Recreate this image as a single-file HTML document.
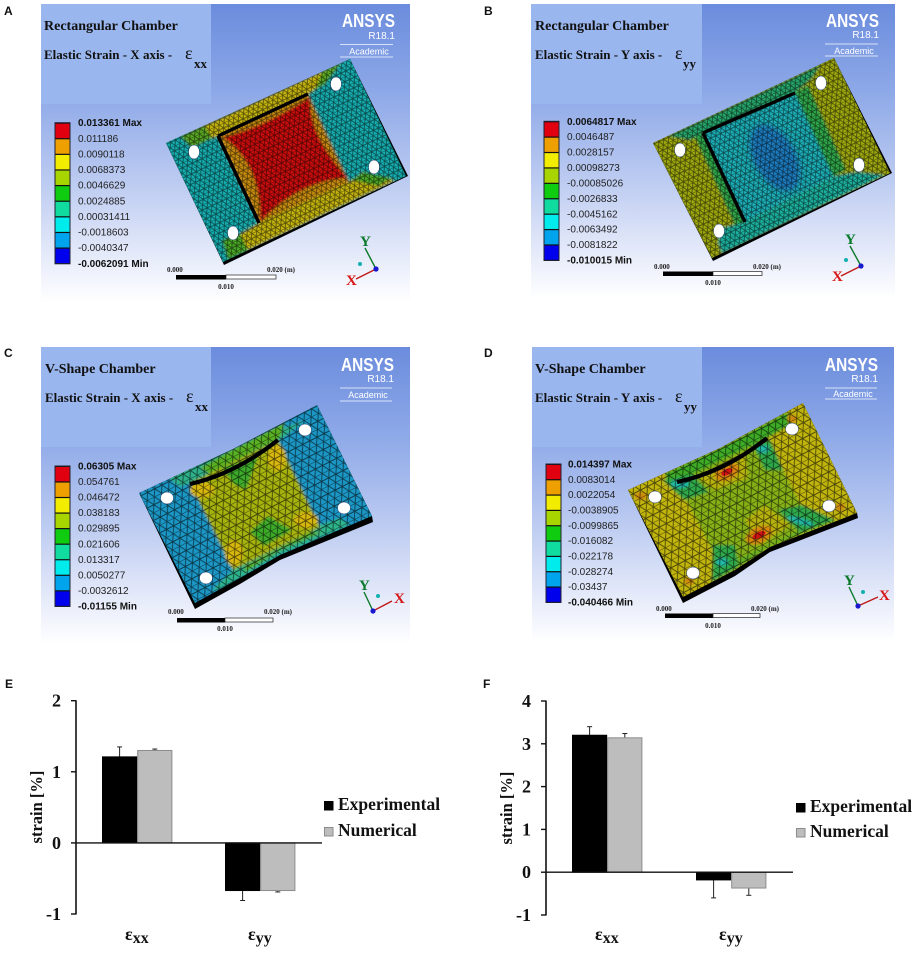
<!DOCTYPE html>
<html lang="en">
<head>
<meta charset="utf-8">
<title>Chamber strain figure</title>
<style>
html,body{margin:0;padding:0;background:#fff;width:916px;height:954px;overflow:hidden}
svg{display:block}
text{font-family:"Liberation Serif",serif}
.sans{font-family:"Liberation Sans",sans-serif}
.ttl{font-size:14px;font-weight:bold;fill:#111}
.ttl2{font-size:13px;font-weight:bold;fill:#111}
.eps{font-size:18px;font-weight:normal;fill:#111}
.ans{font-family:"Liberation Sans",sans-serif;font-size:18px;font-weight:bold;fill:#fff;text-anchor:end}
.rel{font-family:"Liberation Sans",sans-serif;font-size:10px;fill:#fff;text-anchor:end}
.aca{font-family:"Liberation Sans",sans-serif;font-size:9px;fill:#fff;text-anchor:middle}
.tag{font-family:"Liberation Sans",sans-serif;font-size:12px;font-weight:bold;fill:#111}
.hole{fill:#fff;stroke:#1a3a70;stroke-width:.5}
</style>
</head>
<body>
<svg id="fig" xmlns="http://www.w3.org/2000/svg" width="916" height="954" viewBox="0 0 916 954">
<defs>
<linearGradient id="bg" x1="0" y1="0" x2="0" y2="1">
<stop offset="0" stop-color="#6b8cdd"/><stop offset=".3" stop-color="#8ea9e8"/><stop offset=".6" stop-color="#bccbf1"/><stop offset=".85" stop-color="#e6ebfa"/><stop offset="1" stop-color="#fff"/>
</linearGradient>
<pattern id="fine" width="5.4" height="9.353" patternUnits="userSpaceOnUse" patternTransform="rotate(-25)">
<path d="M0,0H5.4M0,4.676H5.4M0,0L5.4,9.353M5.4,0L0,9.353" stroke="#000" stroke-width=".9" stroke-opacity=".55" fill="none"/>
</pattern>
<pattern id="coarse" width="8" height="13.856" patternUnits="userSpaceOnUse" patternTransform="rotate(-27)">
<path d="M0,0H8M0,6.928H8M0,0L8,13.856M8,0L0,13.856" stroke="#000" stroke-width=".9" stroke-opacity=".6" fill="none"/>
</pattern>
<filter id="soft" x="-10%" y="-10%" width="120%" height="120%"><feGaussianBlur stdDeviation="1.2"/></filter>
<filter id="soft2" x="-30%" y="-30%" width="160%" height="160%"><feGaussianBlur stdDeviation="3"/></filter>
<clipPath id="clipA"><polygon points="166,143 350,59 406,176 223,262"/></clipPath>
<clipPath id="clipB"><polygon points="653,143 834,58 890,173 712,258"/></clipPath>
<clipPath id="clipC"><polygon points="139,493 233,449 317,405 372,516 280,555 240,578 195,603"/></clipPath>
<clipPath id="clipD"><polygon points="628,490 720,448 803,403 857,513 770,547 735,570 683,597"/></clipPath>
</defs>
<rect width="916" height="954" fill="#fff"/>

<!-- PANEL A -->
<g>
<rect x="41" y="4" width="369" height="298" fill="url(#bg)"/>
<rect x="41" y="4" width="170" height="100" fill="#9ab6ee"/>
<text class="ttl" x="44" y="30">Rectangular Chamber</text>
<text class="ttl2" x="44" y="59">Elastic Strain - X axis -<tspan class="eps" x="185">ε</tspan></text>
<text class="ttl2" x="194" y="68">xx</text>
<text class="ans" x="395" y="27" textLength="53" lengthAdjust="spacingAndGlyphs">ANSYS</text>
<text class="rel" x="395" y="39">R18.1</text>
<path d="M340,44.5H393M340,57H393" stroke="#fff" stroke-opacity=".7"/>
<text class="aca" x="369" y="54.5">Academic</text>
<g>
<polygon points="166,143 350,59 408,176 224,265" fill="#000"/>
<g clip-path="url(#clipA)">
<g filter="url(#soft)">
<polygon points="150,120 400,30 420,190 220,280" fill="#18aeb0"/>
<polygon points="185,134 338,64 312,92 218,136 192,146" fill="#c4b408"/>
<polygon points="259,223 349,182 363,172 385,178 395,181 232,258 226,240 238,235" fill="#c4b408"/>
<polygon points="180,136 205,126 212,138 192,148" fill="#58a820"/>
<polygon points="322,72 342,62 325,84 315,90" fill="#58a820"/>
<polygon points="352,180 364,172 392,178 378,186" fill="#48a828"/>
<polygon points="222,240 240,234 248,250 228,260" fill="#48a828"/>
<polygon points="218,136 308,94 349,182 259,223" fill="#c98d0a"/>
<path d="M223,137 Q262,128 310,97 Q308,135 348,178 Q300,180 260,222 Q262,165 223,137Z" fill="#cc1010"/>
</g>
<polygon points="166,143 350,59 406,176 223,262" fill="url(#fine)"/>
</g>
<path d="M218,136L308,94M218,136L259,223" stroke="#000" stroke-width="3.4" fill="none"/>
<ellipse class="hole" cx="194" cy="152" rx="5.5" ry="7"/>
<ellipse class="hole" cx="336" cy="84" rx="5.5" ry="7"/>
<ellipse class="hole" cx="374" cy="167" rx="5.5" ry="7"/>
<ellipse class="hole" cx="233" cy="233" rx="5.5" ry="7"/>
</g>
</g>

<!-- PANEL B -->
<g>
<rect x="531" y="4" width="364" height="294" fill="url(#bg)"/>
<rect x="531" y="4" width="171" height="100" fill="#9ab6ee"/>
<text class="ttl" x="535" y="30">Rectangular Chamber</text>
<text class="ttl2" x="535" y="59">Elastic Strain - Y axis -<tspan class="eps" x="675">ε</tspan></text>
<text class="ttl2" x="683" y="68">yy</text>
<text class="ans" x="879" y="27" textLength="53" lengthAdjust="spacingAndGlyphs">ANSYS</text>
<text class="rel" x="879" y="38">R18.1</text>
<path d="M825,44H878M825,56H878" stroke="#fff" stroke-opacity=".7"/>
<text class="aca" x="854" y="54">Academic</text>
<g>
<polygon points="653,143 834,58 892,173 713,261" fill="#000"/>
<g clip-path="url(#clipB)">
<g filter="url(#soft)">
<polygon points="640,40 900,40 900,270 640,270" fill="#a0aa10"/>
<polygon points="668,136 820,65 812,78 795,93 703,133 690,140" fill="#26a56a"/>
<polygon points="745,222 834,176 857,172 885,175 722,254 718,242 722,228" fill="#1fb2a0"/>
<polygon points="703,133 795,93 834,176 745,222" fill="#1cb0b8"/>
<polygon points="795,93 808,85 846,170 833,176" fill="#2ea84a"/>
<polygon points="703,133 695,137 735,225 745,222" fill="#2ea84a"/>
</g>
<ellipse cx="775" cy="158" rx="36" ry="21" transform="rotate(61 775 158)" fill="#1a7cc0" filter="url(#soft2)"/>
<polygon points="653,143 834,58 890,173 712,258" fill="url(#fine)"/>
</g>
<path d="M703,133L795,93M703,133L745,222" stroke="#000" stroke-width="3.4" fill="none"/>
<ellipse class="hole" cx="680" cy="150" rx="5.5" ry="7"/>
<ellipse class="hole" cx="821" cy="83" rx="5.5" ry="7"/>
<ellipse class="hole" cx="859" cy="165" rx="5.5" ry="7"/>
<ellipse class="hole" cx="719" cy="231" rx="5.5" ry="7"/>
</g>
</g>

<!-- PANEL C -->
<g>
<rect x="41" y="347" width="369" height="297" fill="url(#bg)"/>
<rect x="41" y="347" width="170" height="100" fill="#9ab6ee"/>
<text class="ttl" x="45" y="373">V-Shape Chamber</text>
<text class="ttl2" x="45" y="402">Elastic Strain - X axis -<tspan class="eps" x="186">ε</tspan></text>
<text class="ttl2" x="195" y="411">xx</text>
<text class="ans" x="394" y="371" textLength="53" lengthAdjust="spacingAndGlyphs">ANSYS</text>
<text class="rel" x="394" y="382">R18.1</text>
<path d="M340,388H392M340,401H392" stroke="#fff" stroke-opacity=".7"/>
<text class="aca" x="368" y="398">Academic</text>
<g>
<polygon points="139,493 233,449 317,405 372,516 373,522 280,560 240,584 195,609" fill="#000"/>
<g clip-path="url(#clipC)">
<g filter="url(#soft)">
<polygon points="120,400 390,400 390,620 120,620" fill="#1f96c4"/>
<polygon points="167,477 233,448 305,420 283,438 190,483 180,487" fill="#2fb08a"/>
<polygon points="200,468 233,449 285,422 280,438 210,474" fill="#58b020"/>
<polygon points="233,570 320,525 340,518 350,525 280,555 240,578 218,590 212,590" fill="#2fb48a"/>
<polygon points="245,566 310,532 322,532 280,550 245,572" fill="#58b020"/>
<polygon points="190,483 278,440 320,527 233,570" fill="#a6b210"/>
<ellipse cx="202" cy="490" rx="12" ry="8" fill="#d8b80c"/>
<ellipse cx="277" cy="458" rx="9" ry="13" fill="#d8b80c"/>
<ellipse cx="306" cy="520" rx="12" ry="8" fill="#d8b80c"/>
<ellipse cx="234" cy="553" rx="9" ry="13" fill="#d8b80c"/>
<polygon points="222,468 258,456 246,490 234,484" fill="#3cab2a"/>
<polygon points="250,532 268,516 292,530 264,546" fill="#3cab2a"/>
</g>
<polygon points="139,493 233,449 317,405 372,516 280,555 240,578 195,603" fill="url(#coarse)"/>
</g>
<path d="M190,484Q235,474 278,440" stroke="#000" stroke-width="4.2" fill="none"/>
<ellipse class="hole" cx="167" cy="498" rx="6.5" ry="6"/>
<ellipse class="hole" cx="305" cy="430" rx="6.5" ry="6"/>
<ellipse class="hole" cx="344" cy="508" rx="6.5" ry="6"/>
<ellipse class="hole" cx="206" cy="578" rx="6.5" ry="6"/>
</g>
</g>

<!-- PANEL D -->
<g>
<rect x="532" y="347" width="362" height="295" fill="url(#bg)"/>
<rect x="532" y="347" width="170" height="100" fill="#9ab6ee"/>
<text class="ttl" x="535" y="373">V-Shape Chamber</text>
<text class="ttl2" x="535" y="402">Elastic Strain - Y axis -<tspan class="eps" x="675">ε</tspan></text>
<text class="ttl2" x="684" y="411">yy</text>
<text class="ans" x="878" y="371" textLength="53" lengthAdjust="spacingAndGlyphs">ANSYS</text>
<text class="rel" x="878" y="382">R18.1</text>
<path d="M825,388H877M825,399H877" stroke="#fff" stroke-opacity=".7"/>
<text class="aca" x="853" y="397">Academic</text>
<g>
<polygon points="628,490 720,448 803,403 857,513 858,518 770,552 735,576 683,603" fill="#000"/>
<g clip-path="url(#clipD)">
<g filter="url(#soft)">
<polygon points="610,390 880,390 880,610 610,610" fill="#c0b40c"/>
<polygon points="665,473 720,448 787,412 790,425 767,438 677,482 668,484" fill="#3cab28"/>
<polygon points="721,567 811,525 838,520 845,517 770,547 735,570 710,583" fill="#60b020"/>
<polygon points="677,482 767,438 811,525 721,567" fill="#86b012"/>
<polygon points="698,478 745,452 748,478 715,490" fill="#b8b20c"/>
<polygon points="745,520 765,505 790,525 760,545" fill="#b8b20c"/>
<polygon points="663,480 692,474 708,492 684,500" fill="#2ea848"/>
<polygon points="753,445 770,440 783,470 765,470" fill="#2ea848"/>
<polygon points="778,510 802,505 835,520 800,532" fill="#2ea848"/>
<polygon points="713,545 735,545 738,566 712,582" fill="#2ea848"/>
<ellipse cx="680" cy="484" rx="9" ry="4" fill="#24b8a8"/>
<ellipse cx="763" cy="449" rx="6" ry="4" fill="#24b8a8"/>
<ellipse cx="800" cy="521" rx="14" ry="3" transform="rotate(15 800 521)" fill="#24b8a8"/>
<ellipse cx="722" cy="562" rx="6" ry="4" fill="#24b8a8"/>
<ellipse cx="727" cy="472" rx="13" ry="8" transform="rotate(-25 727 472)" fill="#d8860c"/>
<ellipse cx="759" cy="535" rx="14" ry="8" transform="rotate(-25 759 535)" fill="#d8860c"/>
<ellipse cx="641" cy="496" rx="6" ry="4" fill="#cf8a10"/>
<ellipse cx="792" cy="419" rx="5" ry="4" fill="#cf8a10"/>
<ellipse cx="840" cy="507" rx="5" ry="4" fill="#cf8a10"/>
<ellipse cx="689" cy="581" rx="5" ry="4" fill="#cf8a10"/>
</g>
<ellipse cx="727" cy="472" rx="6" ry="3" transform="rotate(-25 727 472)" fill="#d01414"/>
<ellipse cx="759" cy="535" rx="7" ry="3" transform="rotate(-25 759 535)" fill="#d01414"/>
<polygon points="628,490 720,448 803,403 857,513 770,547 735,570 683,597" fill="url(#coarse)"/>
</g>
<path d="M677,482Q725,472 767,438" stroke="#000" stroke-width="4.2" fill="none"/>
<ellipse class="hole" cx="655" cy="497" rx="6.5" ry="6"/>
<ellipse class="hole" cx="792" cy="429" rx="6.5" ry="6"/>
<ellipse class="hole" cx="829" cy="506" rx="6.5" ry="6"/>
<ellipse class="hole" cx="693" cy="573" rx="6.5" ry="6"/>
</g>
</g>

<text class="tag" x="4" y="15">A</text>
<text class="tag" x="484" y="15">B</text>
<text class="tag" x="4" y="357">C</text>
<text class="tag" x="484" y="357">D</text>
<text class="tag" x="5" y="688">E</text>
<text class="tag" x="483" y="688">F</text>
</svg>

<script>
// ---- Chart data ----
const categories = ['xx', 'yy'];
const seriesNames = ['Experimental', 'Numerical'];
const ticksE = [2, 1, 0, -1];
const experimentalE = [1.21, -0.67];
const experimentalErrE = [0.14, 0.14];
const numericalE = [1.30, -0.67];
const numericalErrE = [0.02, 0.02];
const ticksF = [4, 3, 2, 1, 0, -1];
const experimentalF = [3.20, -0.18];
const experimentalErrF = [0.20, 0.42];
const numericalF = [3.14, -0.37];
const numericalErrF = [0.10, 0.17];
// ---- Contour legend values ----
const legendA = ['0.013361 Max','0.011186','0.0090118','0.0068373','0.0046629','0.0024885','0.00031411','-0.0018603','-0.0040347','-0.0062091 Min'];
const legendB = ['0.0064817 Max','0.0046487','0.0028157','0.00098273','-0.00085026','-0.0026833','-0.0045162','-0.0063492','-0.0081822','-0.010015 Min'];
const legendC = ['0.06305 Max','0.054761','0.046472','0.038183','0.029895','0.021606','0.013317','0.0050277','-0.0032612','-0.01155 Min'];
const legendD = ['0.014397 Max','0.0083014','0.0022054','-0.0038905','-0.0099865','-0.016082','-0.022178','-0.028274','-0.03437','-0.040466 Min'];
const contourColors = ['#e00010','#eea000','#f2ec00','#a8d400','#10cc10','#10dca0','#00ecec','#00a4ec','#0000ec'];

const fig = document.getElementById('fig');
const NS = 'http://www.w3.org/2000/svg';
function svgEl(tag, attrs, parent) {
  const e = document.createElementNS(NS, tag);
  for (const k in attrs) e.setAttribute(k, attrs[k]);
  (parent || fig).appendChild(e);
  return e;
}

function drawLegend(prefix, values, barX, labelX, top, bottom) {
  const g = svgEl('g', {});
  
  
  const step = (bottom - top) / (values.length - 1);
  const frame = svgEl('rect', {x: barX, y: top, width: 15, height: bottom - top + 0.5, fill: '#111', stroke: '#223', 'stroke-width': 1}, g);
  
  
  contourColors.forEach((c, i) => {
    const cell = svgEl('rect', {x: barX + 0.5, y: top + i * step + 1, width: 14, height: step - 1.2, fill: c}, g);
    
    
  });
  values.forEach((v, i) => {
    const edge = i === 0 || i === values.length - 1;
    const t = svgEl('text', {x: labelX, y: top + i * step + 3.5, 'font-size': 10, 'font-weight': edge ? 'bold' : 'normal', fill: edge ? '#111' : '#222', class: 'sans'}, g);
    
    
    t.textContent = v;
  });
}
drawLegend('panel-a', legendA, 55, 78, 122.7, 263.3);
drawLegend('panel-b', legendB, 544, 567, 121.3, 260);
drawLegend('panel-c', legendC, 55, 78, 466, 606);
drawLegend('panel-d', legendD, 546, 568, 464, 602);

function drawScale(prefix, x0, x1, x2, barY, labelY, midY) {
  const g = svgEl('g', {});
  
  
  const black = svgEl('rect', {x: x0, y: barY, width: x1 - x0, height: 4.5, fill: '#000'}, g);
  
  
  const white = svgEl('rect', {x: x1, y: barY, width: x2 - x1, height: 4, fill: '#fff', stroke: '#222', 'stroke-width': 0.7}, g);
  
  
  const a = svgEl('text', {x: x0 - 9, y: labelY, 'font-size': 7, 'font-weight': 'bold', fill: '#222'}, g);
  
  
  a.textContent = '0.000';
  const b = svgEl('text', {x: x2 - 9, y: labelY, 'font-size': 7, 'font-weight': 'bold', fill: '#222'}, g);
  
  
  b.textContent = '0.020 (m)';
  const c = svgEl('text', {x: x1, y: midY, 'font-size': 7, 'font-weight': 'bold', fill: '#222', 'text-anchor': 'middle'}, g);
  
  
  c.textContent = '0.010';
}
drawScale('panel-a', 176, 226, 276, 275, 272, 289);
drawScale('panel-b', 663, 713, 762, 271.5, 269, 285);
drawScale('panel-c', 177, 225, 273, 618, 614, 631);
drawScale('panel-d', 665, 713, 760, 613.5, 611, 628);

function drawTriad(prefix, ox, oy, yx, yy, xx, xy, dx, dy, xlx, xly) {
  const g = svgEl('g', {});
  
  
  const ya = svgEl('line', {x1: ox, y1: oy, x2: yx, y2: yy, stroke: '#0a7a2a', 'stroke-width': 1.4}, g);
  
  
  const xa = svgEl('line', {x1: ox, y1: oy, x2: xx, y2: xy, stroke: '#c01818', 'stroke-width': 1.4}, g);
  
  
  const z = svgEl('circle', {cx: ox, cy: oy, r: 2.6, fill: '#1818d0'}, g);
  
  
  const dot = svgEl('circle', {cx: dx, cy: dy, r: 2, fill: '#12b0b0'}, g);
  
  
  const yt = svgEl('text', {x: yx - 5, y: yy - 2, 'font-size': 15, 'font-weight': 'bold', fill: '#0a7a2a'}, g);
  
  
  yt.textContent = 'Y';
  const xt = svgEl('text', {x: xlx, y: xly, 'font-size': 15, 'font-weight': 'bold', fill: '#d81818'}, g);
  
  
  xt.textContent = 'X';
}
drawTriad('panel-a', 376, 269, 365, 248, 356, 279, 360, 264, 346, 285);
drawTriad('panel-b', 861, 266, 850, 246, 841, 276, 846, 260, 832, 281);
drawTriad('panel-c', 373, 611, 364, 592, 392, 601, 378, 596, 394, 603);
drawTriad('panel-d', 858, 606, 849, 587, 878, 597, 863, 592, 879, 600);

function drawChart(prefix, layout, ticks, exp, expErr, num, numErr) {
  const g = svgEl('g', {});
  
  
  const yMax = ticks[0];
  const yMin = ticks[ticks.length - 1];
  const yScale = v => layout.top + (yMax - v) / (yMax - yMin) * (layout.bottom - layout.top);
  const xBand = i => layout.firstBar + i * layout.groupStep;

  const series = [
    {vals: exp, errs: expErr, fill: '#000', stroke: '#000', name: 'experimental'},
    {vals: num, errs: numErr, fill: '#bdbdbd', stroke: '#8c8c8c', name: 'numerical'}
  ];
  series.forEach((s, si) => {
    s.vals.forEach((v, i) => {
      const x = xBand(i) + si * layout.barWidth;
      const y = Math.min(yScale(v), yScale(0));
      const h = Math.abs(yScale(v) - yScale(0));
      const cx = x + layout.barWidth / 2;
      const end = yScale(v + (v >= 0 ? s.errs[i] : -s.errs[i]));
      const stem = svgEl('line', {x1: cx, y1: yScale(v), x2: cx, y2: end, stroke: '#222', 'stroke-width': 1}, g);
      
      
      const cap = svgEl('line', {x1: cx - 2.5, y1: end, x2: cx + 2.5, y2: end, stroke: '#222', 'stroke-width': 1}, g);
      
      
      const bar = svgEl('rect', {x: x + 0.5, y: y, width: layout.barWidth - 1, height: h, fill: s.fill, stroke: s.stroke, 'stroke-width': 1}, g);
      
      
    });
  });

  const axisY = svgEl('line', {x1: layout.axisX, y1: layout.top - 0.5, x2: layout.axisX, y2: layout.bottom + 0.5, stroke: '#111', 'stroke-width': 1.6}, g);
  
  
  const axisX = svgEl('line', {x1: layout.axisX, y1: yScale(0), x2: layout.axisEnd, y2: yScale(0), stroke: '#111', 'stroke-width': 1.4}, g);
  
  

  ticks.forEach(t => {
    const tk = svgEl('line', {x1: layout.axisX - 5, y1: yScale(t), x2: layout.axisX, y2: yScale(t), stroke: '#111', 'stroke-width': 1.4}, g);
    
    
    const lb = svgEl('text', {x: layout.axisX - 15, y: yScale(t) + 6, 'font-size': 18, 'font-weight': 'bold', 'text-anchor': 'end', fill: '#111'}, g);
    
    
    lb.textContent = t;
  });

  const title = svgEl('text', {x: 0, y: 0, 'font-size': 16.5, 'font-weight': 'bold', 'text-anchor': 'middle', fill: '#111', transform: 'translate(' + layout.titleX + ',' + layout.titleY + ') rotate(-90)'}, g);
  
  
  title.textContent = 'strain [%]';

  categories.forEach((c, i) => {
    const lb = svgEl('text', {x: layout.catX + i * layout.groupStep, y: layout.catY, 'font-size': 18, 'font-weight': 'bold', fill: '#111'}, g);
    
    
    lb.textContent = 'ε';
    const sub = svgEl('tspan', {dy: 3, 'font-size': 16}, lb);
    sub.textContent = c;
  });

  seriesNames.forEach((n, i) => {
    const sq = svgEl('rect', {x: layout.legendX + 0.5, y: layout.legendY[i] - 8.5, width: 8.5, height: 8.5, fill: series[i].fill, stroke: series[i].stroke, 'stroke-width': 1}, g);
    
    
    const lb = svgEl('text', {x: layout.legendX + 14, y: layout.legendY[i], 'font-size': 17.5, 'font-weight': 'bold', fill: '#111'}, g);
    
    
    lb.textContent = n;
  });
}

drawChart('chart-e',
  {axisX: 76, axisEnd: 322, top: 700.7, bottom: 914, firstBar: 102, groupStep: 123, barWidth: 35.2, titleX: 42, titleY: 807, catX: 125, catY: 940, legendX: 324, legendY: [810, 836]},
  ticksE, experimentalE, experimentalErrE, numericalE, numericalErrE);
drawChart('chart-f',
  {axisX: 546, axisEnd: 793, top: 701, bottom: 915, firstBar: 572, groupStep: 124, barWidth: 35.2, titleX: 512, titleY: 808, catX: 595, catY: 940, legendX: 796, legendY: [812, 837]},
  ticksF, experimentalF, experimentalErrF, numericalF, numericalErrF);
</script>
</body>
</html>
